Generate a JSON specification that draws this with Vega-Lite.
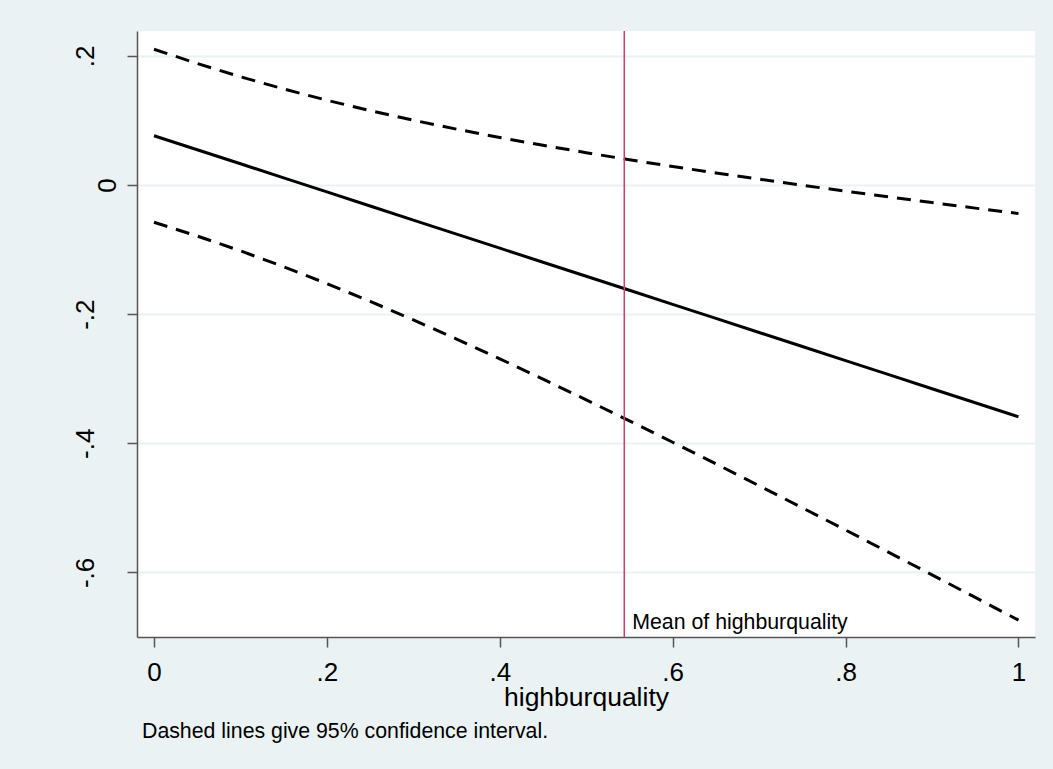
{
  "$schema": "https://vega.github.io/schema/vega-lite/v6.json",
  "width": 898,
  "height": 606,
  "autosize": "none",
  "padding": {"left": 137, "top": 31, "right": 18, "bottom": 132},
  "background": "#EAF2F3",
  "view": {"stroke": null, "fill": "white"},
  "config": {
    "font": "Liberation Sans",
    "axis": {
      "labelFont": "Liberation Sans",
      "titleFont": "Liberation Sans",
      "labelColor": "black",
      "titleColor": "black",
      "domainColor": "#555555",
      "domainWidth": 1.5,
      "tickColor": "#555555",
      "tickWidth": 1.5,
      "tickSize": 10,
      "labelFontSize": 26,
      "titleFontSize": 26.5,
      "titleFontWeight": "normal"
    }
  },
  "title": {
    "text": "Dashed lines give 95% confidence interval.",
    "orient": "bottom",
    "anchor": "start",
    "frame": "group",
    "font": "Liberation Sans",
    "fontSize": 21.3,
    "fontWeight": "normal",
    "color": "black",
    "offset": 10,
    "dx": 5
  },
  "datasets": {
    "ci": [
      {"x": 0.00, "est": 0.0765, "lo": -0.0575, "hi": 0.2105},
      {"x": 0.05, "est": 0.0547, "lo": -0.0789, "hi": 0.1883},
      {"x": 0.10, "est": 0.0330, "lo": -0.1019, "hi": 0.1678},
      {"x": 0.15, "est": 0.0112, "lo": -0.1265, "hi": 0.1489},
      {"x": 0.20, "est": -0.0106, "lo": -0.1526, "hi": 0.1314},
      {"x": 0.25, "est": -0.0324, "lo": -0.1801, "hi": 0.1153},
      {"x": 0.30, "est": -0.0542, "lo": -0.2088, "hi": 0.1005},
      {"x": 0.35, "est": -0.0759, "lo": -0.2385, "hi": 0.0866},
      {"x": 0.40, "est": -0.0977, "lo": -0.2691, "hi": 0.0737},
      {"x": 0.45, "est": -0.1195, "lo": -0.3006, "hi": 0.0616},
      {"x": 0.50, "est": -0.1413, "lo": -0.3327, "hi": 0.0502},
      {"x": 0.55, "est": -0.1630, "lo": -0.3653, "hi": 0.0392},
      {"x": 0.60, "est": -0.1848, "lo": -0.3984, "hi": 0.0288},
      {"x": 0.65, "est": -0.2066, "lo": -0.4319, "hi": 0.0188},
      {"x": 0.70, "est": -0.2284, "lo": -0.4658, "hi": 0.0091},
      {"x": 0.75, "est": -0.2501, "lo": -0.5000, "hi": -0.0003},
      {"x": 0.80, "est": -0.2719, "lo": -0.5344, "hi": -0.0094},
      {"x": 0.85, "est": -0.2937, "lo": -0.5690, "hi": -0.0184},
      {"x": 0.90, "est": -0.3155, "lo": -0.6038, "hi": -0.0271},
      {"x": 0.95, "est": -0.3372, "lo": -0.6388, "hi": -0.0357},
      {"x": 1.00, "est": -0.3590, "lo": -0.6739, "hi": -0.0441}
    ],
    "mean": [
      {"mean": 0.544, "label": "Mean of highburquality", "bottom": -0.700}
    ]
  },
  "layer": [
    {
      "data": {"name": "ci"},
      "mark": {"type": "line", "color": "black", "strokeWidth": 3, "strokeDash": [14, 9]},
      "encoding": {
        "x": {
          "field": "x", "type": "quantitative",
          "scale": {"domain": [-0.01966, 1.0191], "nice": false, "zero": false},
          "axis": {
            "title": "highburquality",
            "values": [0, 0.2, 0.4, 0.6, 0.8, 1],
            "labelExpr": "datum.value == 0 ? '0' : datum.value == 1 ? '1' : replace(format(datum.value, '.1f'), '0.', '.')",
            "grid": false,
            "labelPadding": 12,
            "titlePadding": -1
          }
        },
        "y": {
          "field": "hi", "type": "quantitative",
          "scale": {"domain": [-0.7001, 0.2387], "nice": false, "zero": false},
          "axis": {
            "title": null,
            "values": [-0.6, -0.4, -0.2, 0, 0.2],
            "labelExpr": "datum.value == 0 ? '0' : (datum.value < 0 ? '-' : '') + replace(format(abs(datum.value), '.1f'), '0.', '.')",
            "grid": true,
            "gridColor": "#EAF2F3",
            "gridWidth": 2,
            "labelAngle": 270,
            "labelAlign": "center",
            "labelBaseline": "alphabetic",
            "labelPadding": {"condition": {"test": "datum.value == 0", "value": 12}, "value": 34}
          }
        }
      }
    },
    {
      "data": {"name": "ci"},
      "mark": {"type": "line", "color": "black", "strokeWidth": 3, "strokeDash": [14, 9]},
      "encoding": {
        "x": {"field": "x", "type": "quantitative"},
        "y": {"field": "lo", "type": "quantitative"}
      }
    },
    {
      "data": {"name": "ci"},
      "mark": {"type": "line", "color": "black", "strokeWidth": 3},
      "encoding": {
        "x": {"field": "x", "type": "quantitative"},
        "y": {"field": "est", "type": "quantitative"}
      }
    },
    {
      "data": {"name": "mean"},
      "mark": {"type": "rule", "color": "#DC3C64", "strokeWidth": 1.5},
      "encoding": {
        "x": {"field": "mean", "type": "quantitative"}
      }
    },
    {
      "data": {"name": "mean"},
      "mark": {"type": "text", "align": "left", "baseline": "alphabetic", "dx": 8, "dy": -8, "fontSize": 21.3, "font": "Liberation Sans", "color": "black"},
      "encoding": {
        "x": {"field": "mean", "type": "quantitative"},
        "y": {"field": "bottom", "type": "quantitative"},
        "text": {"field": "label"}
      }
    }
  ]
}
